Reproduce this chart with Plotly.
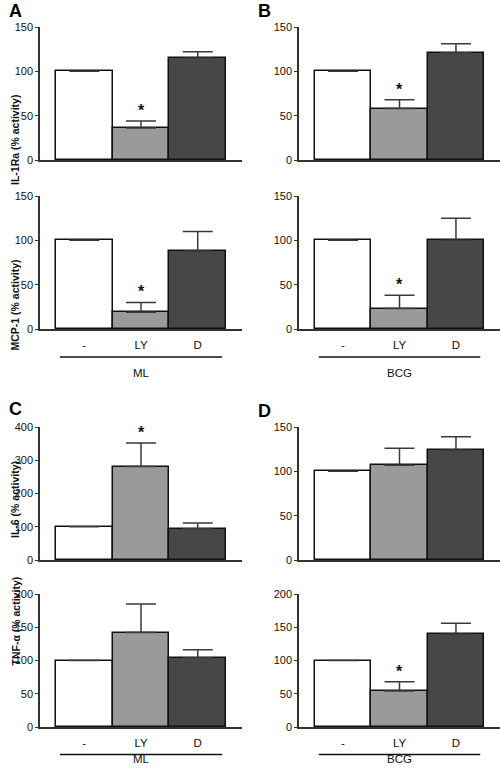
import plotly.graph_objects as go

W, H = 500, 774

categories = ["-", "LY", "D"]

il1ra_ml = [100, 36, 115]
il1ra_ml_err = [None, 8, 7]
mcp1_ml = [100, 19, 88]
mcp1_ml_err = [None, 11, 22]

il1ra_bcg = [100, 58, 121]
il1ra_bcg_err = [None, 10, 10]
mcp1_bcg = [100, 23, 100]
mcp1_bcg_err = [None, 15, 25]

il6_ml = [100, 281, 94]
il6_ml_err = [None, 71, 17]
tnf_ml = [100, 142, 104]
tnf_ml_err = [None, 43, 12]

il6_bcg = [100, 107, 124]
il6_bcg_err = [None, 19, 15]
tnf_bcg = [100, 54, 140]
tnf_bcg_err = [None, 14, 16]

sig_il1ra_ml = [False, True, False]
sig_mcp1_ml = [False, True, False]
sig_il1ra_bcg = [False, True, False]
sig_mcp1_bcg = [False, True, False]
sig_il6_ml = [False, True, False]
sig_tnf_ml = [False, False, False]
sig_il6_bcg = [False, False, False]
sig_tnf_bcg = [False, True, False]

bar_colors = ["#ffffff", "#9a9a9a", "#474747"]

FONT = "Liberation Sans, Arial, sans-serif"

# (values, errors, sig, yticks, col, row, ytitle)
panels = [
    (il1ra_ml, il1ra_ml_err, sig_il1ra_ml, [0, 50, 100, 150], 0, 0, "IL-1Ra (% activity)"),
    (mcp1_ml, mcp1_ml_err, sig_mcp1_ml, [0, 50, 100, 150], 0, 1, "MCP-1 (% activity)"),
    (il1ra_bcg, il1ra_bcg_err, sig_il1ra_bcg, [0, 50, 100, 150], 1, 0, None),
    (mcp1_bcg, mcp1_bcg_err, sig_mcp1_bcg, [0, 50, 100, 150], 1, 1, None),
    (il6_ml, il6_ml_err, sig_il6_ml, [0, 100, 200, 300, 400], 0, 2, "IL-6 (% activity)"),
    (tnf_ml, tnf_ml_err, sig_tnf_ml, [0, 50, 100, 150, 200], 0, 3, "TNF-\u03b1 (% activity)"),
    (il6_bcg, il6_bcg_err, sig_il6_bcg, [0, 50, 100, 150], 1, 2, None),
    (tnf_bcg, tnf_bcg_err, sig_tnf_bcg, [0, 50, 100, 150, 200], 1, 3, None),
]

col_px = [(40, 242), (299, 500)]
row_px = [(27, 160), (196, 329), (427, 560), (594, 727)]
ytitle_px = [93, 258, 500, 668]

fig = go.Figure()
annotations = []
shapes = []

for i, (vals, errs, sig, yt, c, r, ytitle) in enumerate(panels):
    n = i + 1
    xa = "x" if n == 1 else f"x{n}"
    ya = "y" if n == 1 else f"y{n}"
    xkey = "xaxis" if n == 1 else f"xaxis{n}"
    ykey = "yaxis" if n == 1 else f"yaxis{n}"
    x0, x1 = col_px[c]
    y0, y1 = row_px[r]
    fig.add_trace(go.Bar(
        x=[0, 1, 2], y=vals, width=1.0,
        marker=dict(color=bar_colors, line=dict(color="#111111", width=1.5)),
        error_y=dict(type="data", array=[e if e is not None else float("nan") for e in errs],
                     arrayminus=[0, 0, 0], symmetric=False,
                     color="#3a3a3a", thickness=1.5, width=15),
        xaxis=xa, yaxis=ya, showlegend=False, hoverinfo="skip",
    ))
    bottom = r in (1, 3)
    fig.layout[xkey] = dict(
        domain=[x0 / W, x1 / W], anchor=ya, range=[-0.78, 2.78],
        showline=True, linecolor="#333333", linewidth=1.5,
        showgrid=False, zeroline=False, fixedrange=True, automargin=False,
        tickvals=[0, 1, 2], ticktext=categories if bottom else ["", "", ""],
        ticks="", showticklabels=bottom, ticklabelstandoff=4,
        tickfont=dict(family=FONT, size=11.5, color="#111111"),
    )
    fig.layout[ykey] = dict(
        domain=[1 - y1 / H, 1 - y0 / H], anchor=xa, range=[0, yt[-1]],
        showline=True, linecolor="#333333", linewidth=1.5,
        showgrid=False, zeroline=False, fixedrange=True, automargin=False,
        tickvals=yt, ticks="outside", ticklen=3, tickwidth=1, tickcolor="#333333",
        tickfont=dict(family=FONT, size=11, color="#111111"),
    )
    for k in range(3):
        if sig[k]:
            top = vals[k] + (errs[k] or 0)
            annotations.append(dict(
                x=k, y=top, xref=xa, yref=ya, text="<b>*</b>", showarrow=False,
                yanchor="bottom", yshift=0,
                font=dict(family=FONT, size=16, color="#111111"),
            ))
    if ytitle:
        annotations.append(dict(
            x=7 / W, y=1 - ytitle_px[r] / H, xref="paper", yref="paper",
            text=f"<b>{ytitle}</b>", textangle=-90, showarrow=False,
            font=dict(family=FONT, size=10.5, color="#111111"),
        ))
    if bottom:
        line_y = 357 if r == 1 else 754.5
        lab_y = 373 if r == 1 else 767
        shapes.append(dict(
            type="line", xref=xa, yref="paper", x0=-0.43, x1=2.43,
            y0=1 - line_y / H, y1=1 - line_y / H,
            line=dict(color="#111111", width=1.5),
        ))
        annotations.append(dict(
            x=1, y=1 - lab_y / H, xref=xa, yref="paper",
            text="ML" if c == 0 else "BCG", showarrow=False,
            font=dict(family=FONT, size=11.5, color="#111111"),
        ))

letters = [("A", 8, 0), ("B", 264, 0), ("C", 8, 398), ("D", 264, 400)]
for t, lx, ly in letters:
    annotations.append(dict(
        x=lx / W, y=1 - ly / H, xref="paper", yref="paper",
        text=f"<b>{t}</b>", showarrow=False, yanchor="top", borderpad=0,
        font=dict(family=FONT, size=18, color="#000000"),
    ))

fig.update_layout(
    width=W, height=H, margin=dict(l=0, r=0, t=0, b=0, autoexpand=False),
    paper_bgcolor="white", plot_bgcolor="white",
    annotations=annotations, shapes=shapes, bargap=0,
)

fig.write_html(
    "out.html",
    config={"displayModeBar": False},
    post_script="document.body.style.margin='0';document.body.style.padding='0';",
)
